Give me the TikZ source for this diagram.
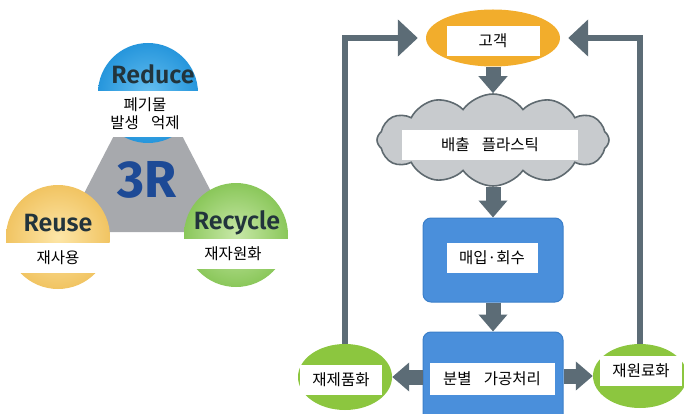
\documentclass[tikz,border=0pt]{standalone}
\usepackage{fontspec}
\usepackage{xcolor}
\usetikzlibrary{shapes.geometric,shapes.symbols,arrows.meta,positioning}
\newfontfamily\kor{Noto Sans CJK KR}[WordSpace=3.5]
\newfontfamily\latfont{Fira Sans SemiBold}
\newfontfamily\rfont{Fira Sans Bold}
\definecolor{reduceIn}{RGB}{102, 191, 240}
\definecolor{reduceOut}{RGB}{38, 150, 220}
\definecolor{reuseIn}{RGB}{253, 230, 168}
\definecolor{reuseOut}{RGB}{241, 196, 98}
\definecolor{recycIn}{RGB}{200, 232, 168}
\definecolor{recycOut}{RGB}{138, 199, 90}
\definecolor{trigray}{RGB}{167, 169, 173}
\definecolor{threeR}{RGB}{29, 74, 150}
\definecolor{lblcol}{RGB}{34, 52, 60}
\definecolor{custor}{RGB}{242, 173, 44}
\definecolor{cloudfill}{RGB}{200, 203, 206}
\definecolor{clouddraw}{RGB}{95, 106, 112}
\definecolor{boxblue}{RGB}{74, 143, 219}
\definecolor{boxedge}{RGB}{59, 127, 201}
\definecolor{leaf}{RGB}{140, 198, 63}
\definecolor{arrowgray}{RGB}{92, 108, 118}
\newcommand{\rname}[1]{{\latfont\fontsize{25}{27}\selectfont\textcolor{lblcol}{#1}}}

\tikzset{
  whitelbl/.style={fill=white, inner sep=0pt, align=center, font=\kor\fontsize{15.5}{18}\selectfont},
  bubble/.style={circle, minimum size=104pt, inner sep=0pt},
  bluebox/.style={rectangle, rounded corners=8pt, fill=boxblue, draw=boxedge, line width=1pt, minimum width=140pt},
  greenell/.style={ellipse, fill=leaf, minimum width=94pt, minimum height=66pt},
  fatarrow/.style={draw=arrowgray, line width=15pt, -{Triangle[width=28pt,length=17pt]}},
  backline/.style={draw=arrowgray, line width=6.5pt, -{Triangle[width=36pt,length=20pt]}, shorten >=8pt},
}

\begin{document}
\begin{tikzpicture}[x=1pt, y=-1pt]
  \useasboundingbox (0,0) rectangle (684,414);
  \clip (0,0) rectangle (684,414);

  % 3R
  \fill[trigray, rounded corners=10pt] (148,70) -- (232,232) -- (64,232) -- cycle;
  \node[bubble, minimum size=100pt, inner color=reduceIn, outer color=reduceOut] (reduce) at (148,93) {};
  \node[bubble, inner color=reuseIn, outer color=reuseOut] (reuse) at (58,237) {};
  \node[bubble, inner color=recycIn, outer color=recycOut] (recycle) at (236,235) {};
  \node[font=\rfont\fontsize{52}{54}\selectfont, text=threeR] (threer) at (147,180) {3R};
  \node (reducetxt) at (153,74) {\rname{Reduce}};
  \node (reusetxt) at (58,223) {\rname{Reuse}};
  \node (recycletxt) at (237,223) {\rname{Recycle}};
  \node[whitelbl, minimum width=110pt, minimum height=46pt] (reducelbl) at (145,114) {폐기물\\발생 억제};
  \node[whitelbl, minimum width=108pt, minimum height=30pt] (reuselbl) at (58,258) {재사용};
  \node[whitelbl, minimum width=110pt, minimum height=30pt] (recyclelbl) at (233,254) {재자원화};

  % flow
  \node[ellipse, fill=custor, minimum width=134pt, minimum height=57pt] (cust) at (493,38) {};
  \node[cloud, cloud puffs=12, cloud puff arc=110, aspect=2.5, fill=cloudfill, draw=clouddraw, line width=1.6pt,
        minimum width=232pt, minimum height=92pt] (cloud) at (493,140) {};
  \node[bluebox, minimum height=84pt] (buy) at (493,260) {};
  \node[bluebox, minimum height=96pt] (sort) at (493,380) {};
  \node[greenell] (remake) at (345,377) {};
  \node[greenell, minimum height=64pt] (remat) at (640,376) {};

  \draw[fatarrow] (cust) -- (cloud);
  \draw[fatarrow] (cloud) -- (buy);
  \draw[fatarrow] (buy) -- (sort);
  \draw[fatarrow] (sort.west |- remake) -- (remake);
  \draw[fatarrow] (sort.east |- remat) -- (remat);
  \draw[backline] (remake.north) |- (cust.west);
  \draw[backline] (remat.north) |- (cust.east);

  \node[whitelbl, minimum width=93pt, minimum height=30pt] (custlbl) at (493,41) {고객};
  \node[whitelbl, minimum width=176pt, minimum height=29pt] (cloudlbl) at (490,145) {배출 플라스틱};
  \node[whitelbl, minimum width=91pt, minimum height=30pt] (buylbl) at (492,258) {매입·회수};
  \node[whitelbl, minimum width=125pt, minimum height=32pt] (sortlbl) at (492,379) {분별 가공처리};
  \node[whitelbl, minimum width=82pt, minimum height=30pt] (remakelbl) at (341,380) {재제품화};
  \node[whitelbl, minimum width=82pt, minimum height=30pt] (rematlbl) at (641,371) {재원료화};
\end{tikzpicture}
\end{document}
